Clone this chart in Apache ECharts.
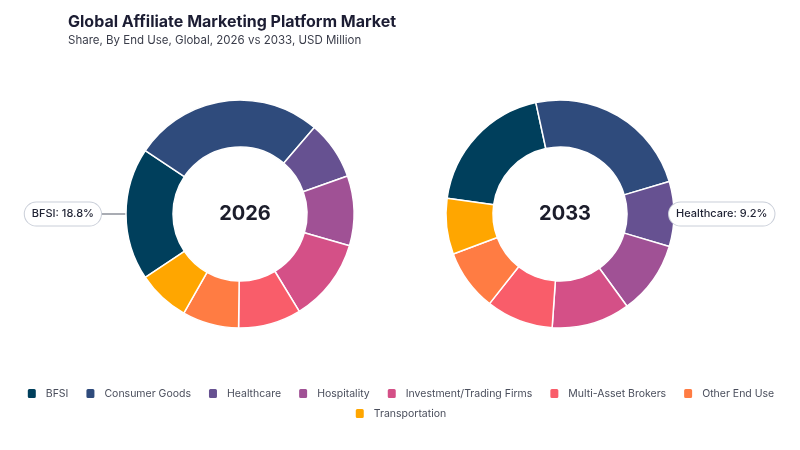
<!DOCTYPE html>
<html>
<head>
<meta charset="utf-8">
<script src="https://cdn.jsdelivr.net/npm/echarts@6/dist/echarts.min.js"></script>
<style>
  html, body { margin: 0; padding: 0; background: #fff; }
  #main { width: 800px; height: 450px; }
</style>
</head>
<body>
<div id="main"></div>
<script>
// end use segments and their share (%) per year
var categories = ['BFSI', 'Consumer Goods', 'Healthcare', 'Hospitality', 'Investment/Trading Firms', 'Multi-Asset Brokers', 'Other End Use', 'Transportation'];
var share2026 = [18.8, 26.9, 8.3, 9.9, 11.8, 8.9, 8.0, 7.4];
var share2033 = [19.4, 23.8, 9.2, 10.4, 11.1, 9.5, 8.7, 7.9];
var years = ['2026', '2033'];
var colors = ['#003f5c', '#2f4b7c', '#665191', '#a05195', '#d45087', '#f95d6a', '#ff7c43', '#ffa600'];

var FONT = 'Inter, "Noto Sans", sans-serif';

function toData(values) {
    return categories.map(function(c, i) {
        return { name: c, value: values[i] };
    });
}

// start angle so the highlighted slice sits centred on the horizontal
function startFor(values, idx, midAngle) {
    var before = 0;
    for (var i = 0; i < idx; i++) before += values[i];
    return midAngle + (before + values[idx] / 2) * 3.6;
}

var labelBox = {
    show: true,
    color: '#1f2233',
    fontFamily: FONT,
    fontSize: 11,
    fontWeight: 500,
    backgroundColor: '#fff',
    borderColor: '#c9ced8',
    borderWidth: 1,
    borderRadius: 12,
    padding: [6, 7]
};

function makeSeries(values, hiIdx, midAngle, center, line) {
    var data = toData(values);
    data.forEach(function(d, i) {
        d.label = { show: i === hiIdx };
        d.labelLine = { show: i === hiIdx && line.show };
    });
    return {
        type: 'pie',
        center: center,
        radius: [67, 114],
        startAngle: startFor(values, hiIdx, midAngle),
        clockwise: true,
        avoidLabelOverlap: false,
        itemStyle: { borderColor: '#fff', borderWidth: 1.5 },
        label: Object.assign({ position: 'outside', formatter: function(p) {
            return p.name + ': ' + p.value.toFixed(1) + '%';
        } }, labelBox),
        labelLine: {
            length: line.length,
            length2: line.length2,
            lineStyle: { color: '#8c909a', width: 1.5 }
        },
        labelLayout: line.layout,
        emphasis: { disabled: true },
        z: 2,
        data: data
    };
}

function yearTitle(text, x) {
    return {
        text: text,
        left: x,
        top: 209,
        textAlign: 'center',
        textVerticalAlign: 'middle',
        textStyle: { fontFamily: FONT, fontSize: 20, fontWeight: 'bold', color: '#1c1d2b' }
    };
}

function legendRow(names, top) {
    return {
        data: names,
        top: top,
        left: 'center',
        width: 796,
        padding: [5, 0],
        icon: 'roundRect',
        itemWidth: 10,
        itemHeight: 11,
        itemGap: 16,
        textStyle: { fontFamily: FONT, fontSize: 10.5, color: '#4a4e5c', padding: [0, 0, 0, 4] }
    };
}

var myChart = echarts.init(document.getElementById('main'));

var option = {
    animation: false,
    color: colors,
    title: [{
        text: 'Global Affiliate Marketing Platform Market',
        subtext: 'Share, By End Use, Global, 2026 vs 2033, USD Million',
        left: 63,
        top: 9,
        itemGap: 5,
        textStyle: { fontFamily: FONT, fontSize: 16, fontWeight: 'bold', color: '#1c1d33' },
        subtextStyle: { fontFamily: FONT, fontSize: 11.5, color: '#3a3d4a' }
    }, yearTitle(years[0], 240), yearTitle(years[1], 560)],
    legend: [
        legendRow(categories.slice(0, 7), 382),
        legendRow(categories.slice(7), 402)
    ],
    series: [
        makeSeries(share2026, 0, 180, [240, 214], { show: true, length: 2, length2: 22, layout: { dx: 4 } }),
        makeSeries(share2033, 2, 0, [560, 214], { show: false, length: 0, length2: 0, layout: { dx: -10 } })
    ]
};

myChart.setOption(option);
</script>
</body>
</html>
